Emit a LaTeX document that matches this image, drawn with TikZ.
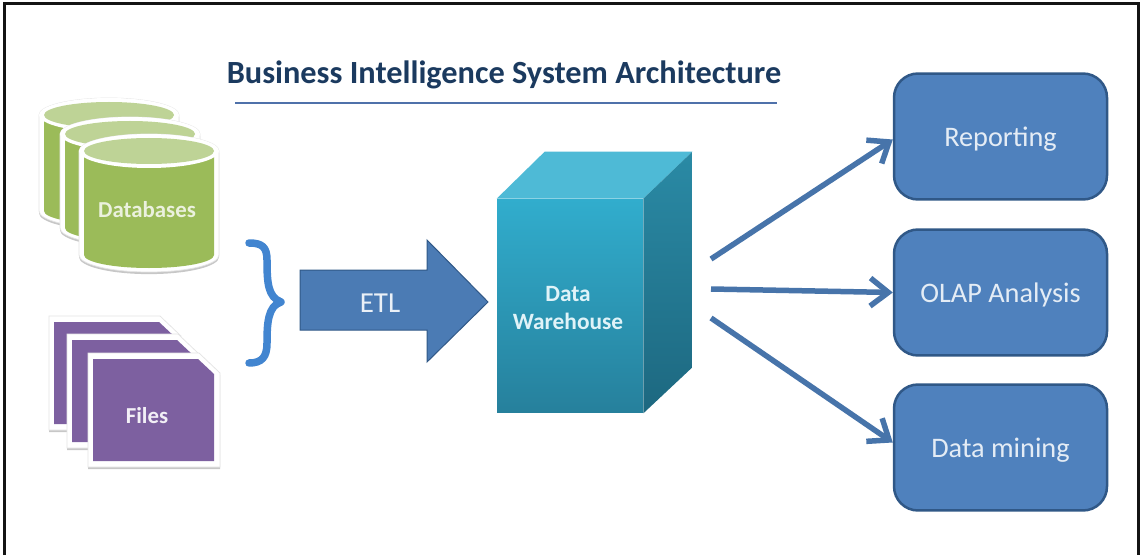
\documentclass[tikz,border=0pt]{standalone}
\usepackage{fontspec}
\setmainfont{Carlito}
\usetikzlibrary{arrows.meta, calc, positioning, shadows}
\definecolor{framegray}{RGB}{20, 20, 20}
\definecolor{titleblue}{RGB}{27, 58, 95}
\definecolor{ruleblue}{RGB}{79, 113, 170}
\definecolor{boxblue}{RGB}{79, 129, 189}
\definecolor{boxedge}{RGB}{48, 88, 135}
\definecolor{bracketblue}{RGB}{66, 133, 208}
\definecolor{dbgreen}{RGB}{155, 187, 89}
\definecolor{dbtop}{RGB}{190, 211, 150}
\definecolor{filepurple}{RGB}{125, 96, 160}
\definecolor{dwtop}{RGB}{78, 186, 214}
\definecolor{dwfronta}{RGB}{49, 173, 205}
\definecolor{dwfrontb}{RGB}{38, 128, 156}
\definecolor{dwsidea}{RGB}{42, 138, 165}
\definecolor{dwsideb}{RGB}{29, 104, 128}
\tikzset{
	softshadow/.style={draw=black!10,line width=0.15mm,drop shadow={shadow xshift=0pt,shadow yshift=-1.2pt,opacity=0.22,fill=black}},
	sourcelabel/.style={font=\fontsize{13}{15}\selectfont\bfseries},
	targetbox/.style={draw=boxedge,line width=0.5mm,fill=boxblue,rounded corners=0.48cm,minimum width=4.26cm,minimum height=2.52cm,text=white!85!boxblue,text height=14pt,text depth=3pt,font=\fontsize{16.1}{18}\selectfont},
	flowarrow/.style={draw=boxblue!90!black,line width=1.1mm,-{Straight Barb[length=3.6mm,width=5.6mm,line width=1.1mm]}}
}

\begin{document}
\begin{tikzpicture}[x=0.02cm,y=0.02cm]
	\useasboundingbox (0,0) rectangle (1141,555);
	\fill[white] (0,0) rectangle (1141,555);
	% frame
	\draw[framegray,line width=0.6mm] (4.5,0) -- (4.5,551) -- (1138,551) -- (1138,0);

	% title
	\node[text=titleblue,font=\fontsize{18.4}{20}\selectfont\bfseries] (title) at (504,480) {Business Intelligence System Architecture};
	\coordinate (ruleL) at (235,452);
	\coordinate (ruleR) at (777,452);
	\draw[ruleblue,line width=0.3mm] (ruleL) -- (ruleR);

	% databases
	\foreach \cx/\ytop/\hgt in {109/440/96, 130/421/94, 149/404/104}{
		\filldraw[fill=white,softshadow] (\cx-70,\ytop) -- (\cx-70,\ytop-\hgt) arc[start angle=180,end angle=360,x radius=70,y radius=17] -- (\cx+70,\ytop) arc[start angle=0,end angle=180,x radius=70,y radius=17] -- cycle;
		\fill[dbgreen] (\cx-65,\ytop) -- (\cx-65,\ytop-\hgt) arc[start angle=180,end angle=360,x radius=65,y radius=13] -- (\cx+65,\ytop) -- cycle;
		\fill[white] (\cx,\ytop) ellipse[x radius=70,y radius=17];
		\fill[dbtop] (\cx,\ytop) ellipse[x radius=65,y radius=13];
	}
	\node[sourcelabel,text=white!80!dbgreen] (databases) at (147,345) {Databases};

	% files
	\foreach \dx/\dy in {-39/37, -21/19, 0/0}{
		\begin{scope}[shift={(\dx,\dy)}]
			\filldraw[fill=white,softshadow] (88,202) -- (88,88) -- (220,88) -- (220,182) -- (199,202) -- cycle;
			\fill[filepurple] (93,196) -- (93,94) -- (214,94) -- (214,181) -- (198,196) -- cycle;
		\end{scope}
	}
	\node[sourcelabel,text=white!90!filepurple] (files) at (147,139) {Files};

	% bracket
	\draw[bracketblue,line width=1.5mm,line cap=round,line join=round] (249,312) .. controls (262,312) and (267,308) .. (267,295) .. controls (267,272) and (268,258) .. (281,253) .. controls (268,249) and (267,232) .. (267,212) .. controls (267,198) and (262,192) .. (249,192);

	% etl arrow
	\draw[boxedge,line width=0.2mm,fill=boxblue!95!black] (300,285) -- (427,285) -- (427,315) -- (488,253) -- (427,193) -- (427,225) -- (300,225) -- cycle;
	\node[text=white!88!boxblue,font=\fontsize{16.5}{18}\selectfont] (etl) at (380,252) {ETL};

	% data warehouse
	\node[minimum width=2.92cm,minimum height=4.28cm,inner sep=0pt,top color=dwfronta,bottom color=dwfrontb] (warehouse) at (570,249) {};
	\node[text=white!85!dwfronta,align=center,font=\fontsize{13.3}{15.6}\selectfont\bfseries] (dwlabel) at ($(warehouse.center)+(-2,-2)$) {Data\\Warehouse};
	\fill[dwtop] (warehouse.north west) -- ($(warehouse.north west)+(48,47)$) -- ($(warehouse.north east)+(49,47)$) -- (warehouse.north east) -- cycle;
	\shade[top color=dwsidea,bottom color=dwsideb] (warehouse.north east) -- ($(warehouse.north east)+(49,47)$) -- ($(warehouse.south east)+(49,46)$) -- (warehouse.south east) -- cycle;

	% targets
	\node[targetbox] (reporting) at (1000.5,418.5) {Reporting};
	\node[targetbox] (olap) at (1000.5,262.5) {OLAP Analysis};
	\node[targetbox] (mining) at (1000.5,107.5) {Data mining};

	\coordinate (outA) at (711,296);
	\coordinate (outB) at (711,266);
	\coordinate (outC) at (711,237);
	\draw[flowarrow] (outA) -- ($(reporting.west)+(0,-3)$);
	\draw[flowarrow] (outB) -- (olap.west);
	\draw[flowarrow] (outC) -- ($(mining.west)+(0,5)$);
\end{tikzpicture}
\end{document}
